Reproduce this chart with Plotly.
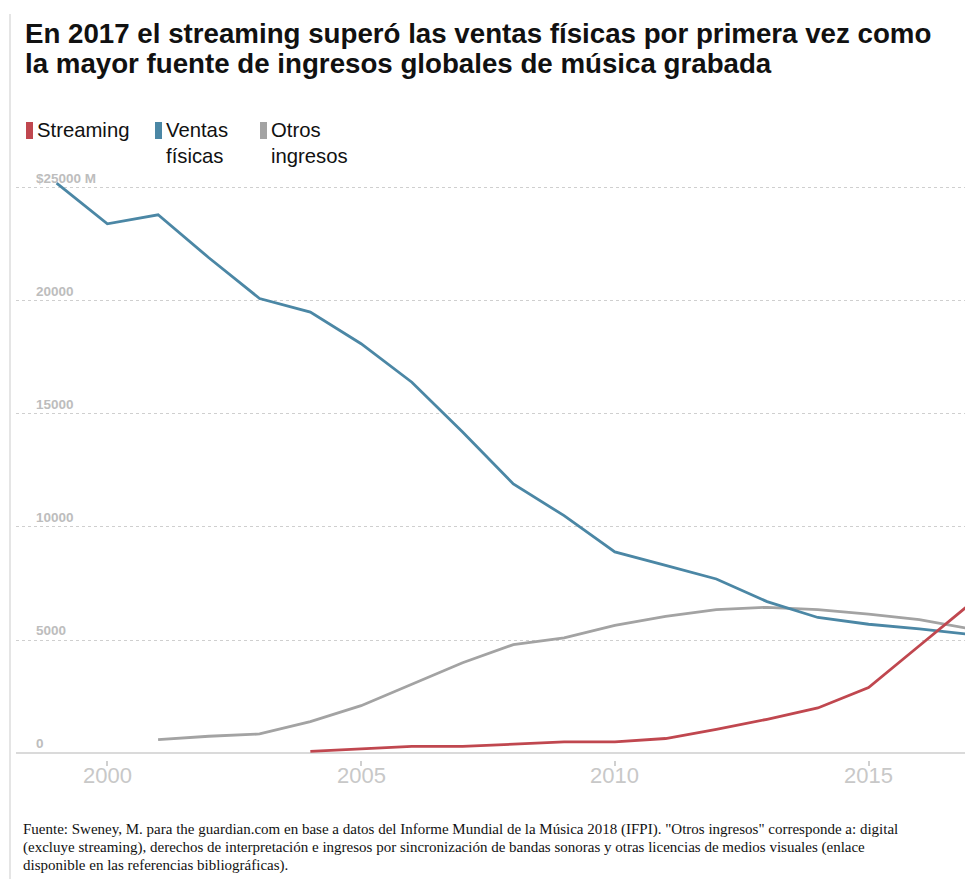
import plotly.graph_objects as go

years_fis = list(range(1999, 2018))
fisicas = [25200, 23400, 23800, 21900, 20100, 19500, 18100, 16400, 14200, 11900,
           10500, 8900, 8300, 7700, 6700, 6000, 5700, 5500, 5250]
years_otros = list(range(2001, 2018))
otros = [600, 750, 850, 1400, 2100, 3050, 4000, 4800, 5100, 5650, 6050, 6350,
         6450, 6350, 6150, 5900, 5500]
years_str = list(range(2004, 2018))
streaming = [80, 180, 300, 300, 400, 500, 500, 650, 1050, 1500, 2000, 2900, 4750, 6600]

ytick_vals = [0, 5000, 10000, 15000, 20000, 25000]
ytick_text = ["0", "5000", "10000", "15000", "20000", "$25000 M"]
xtick_vals = [2000, 2005, 2010, 2015]

title_lines = ["En 2017 el streaming superó las ventas físicas por primera vez como",
               "la mayor fuente de ingresos globales de música grabada"]
legend_names = ["Streaming", "Ventas<br>físicas", "Otros<br>ingresos"]
foot_lines = [
    "Fuente: Sweney, M. para the guardian.com en base a datos del Informe Mundial de la Música 2018 (IFPI). \"Otros ingresos\" corresponde a: digital",
    "(excluye streaming), derechos de interpretación e ingresos por sincronización de bandas sonoras y otras licencias de medios visuales (enlace",
    "disponible en las referencias bibliográficas).",
]

C_STR = "#c0474f"
C_FIS = "#4b87a5"
C_OTR = "#a3a3a3"

W, H = 965, 879
L, R, T, B = 16, 0, 165, 119
PW, PH = W - L - R, H - T - B


def px(xp):
    return (xp - L) / PW


def py(yp):
    return (H - B - yp) / PH


fig = go.Figure()
fig.add_trace(go.Scatter(x=years_otros, y=otros, mode="lines", name="Otros ingresos",
                         line=dict(color=C_OTR, width=2.8)))
fig.add_trace(go.Scatter(x=years_fis, y=fisicas, mode="lines", name="Ventas físicas",
                         line=dict(color=C_FIS, width=2.8)))
fig.add_trace(go.Scatter(x=years_str, y=streaming, mode="lines", name="Streaming",
                         line=dict(color=C_STR, width=2.8)))

fig.update_layout(
    width=W, height=H,
    margin=dict(l=L, r=R, t=T, b=B),
    plot_bgcolor="white", paper_bgcolor="white",
    showlegend=False,
    xaxis=dict(
        range=[1998.2, 2016.9], showgrid=False, zeroline=False,
        tickvals=xtick_vals, ticks="outside", ticklen=5, tickcolor="#d0d0d0", tickwidth=1.5,
        showticklabels=False,
        showline=False, fixedrange=True,
    ),
    yaxis=dict(
        range=[-300, 26000], showgrid=True, gridcolor="#cfcfcf", griddash="dot", gridwidth=1,
        zeroline=True, zerolinecolor="#dadada", zerolinewidth=2,
        tickvals=ytick_vals, ticktext=ytick_text,
        ticklabelposition="inside top", ticklabelstandoff=17,
        tickfont=dict(family="Liberation Sans Narrow, Arial, sans-serif", size=13.5, color="#bdbdbd", weight="bold"),
        showline=False, fixedrange=True,
    ),
)

# x tick labels
for yr in xtick_vals:
    fig.add_annotation(text=str(yr), xref="x", yref="paper", x=yr, y=py(775),
                       xanchor="center", yanchor="middle", showarrow=False,
                       font=dict(family="Liberation Sans, Arial, sans-serif", size=22, color="#c8c8c8"))

# left frame line
fig.add_shape(type="line", xref="paper", yref="paper",
              x0=px(10), x1=px(10), y0=py(H), y1=py(14),
              line=dict(color="#dddddd", width=1.5))

# title
for i, line in enumerate(title_lines):
    fig.add_annotation(text="<b>" + line + "</b>", xref="paper", yref="paper",
                       x=px(23), y=py(34 + 30 * i), xanchor="left", yanchor="middle",
                       showarrow=False,
                       font=dict(family="Liberation Sans, Arial, sans-serif", size=27.7, color="#111"))

# legend (custom)
leg_x = [26, 155, 260]
leg_c = [C_STR, C_FIS, C_OTR]
for name, col, xx in zip(legend_names, leg_c, leg_x):
    fig.add_shape(type="rect", xref="paper", yref="paper",
                  x0=px(xx), x1=px(xx + 7), y0=py(139), y1=py(122),
                  fillcolor=col, line=dict(width=0), layer="above")
    fig.add_annotation(text=name, xref="paper", yref="paper",
                       x=px(xx + 9), y=py(117), xanchor="left", yanchor="top",
                       align="left", showarrow=False,
                       font=dict(family="Liberation Sans, Arial, sans-serif", size=20.3, color="#111"))

# footnote
for i, line in enumerate(foot_lines):
    fig.add_annotation(text=line, xref="paper", yref="paper",
                       x=px(22), y=py(829 + 18 * i), xanchor="left", yanchor="middle",
                       align="left", showarrow=False, height=16, borderpad=0,
                       font=dict(family="Liberation Serif, Times New Roman, serif", size=15, color="#111"))

fig.write_html("out.html")
